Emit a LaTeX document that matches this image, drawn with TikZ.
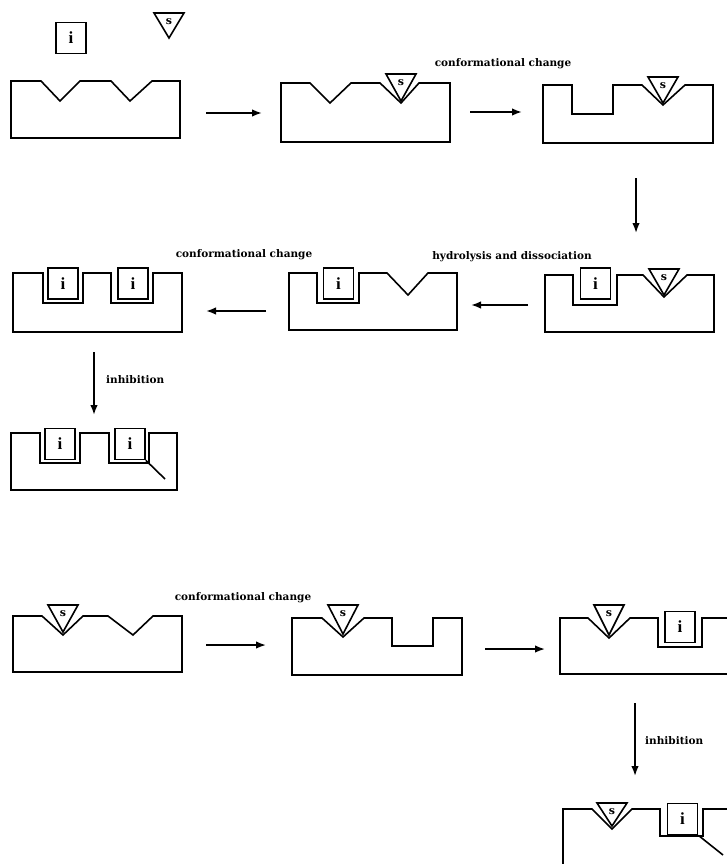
\documentclass[tikz,border=0pt]{standalone}
\usepackage{fontspec}
\setmainfont{Liberation Serif}
\newfontfamily\lblfont{DejaVu Serif}
\usetikzlibrary{arrows.meta}
\newcommand{\mkS}[4]{%
  \draw[shp] (#2-15,#3) -- (#2+15,#3) -- (#2,#4) -- cycle;
  \node[stxt] (#1) at (#2,#3+8.5) {s};}
\begin{document}
\begin{tikzpicture}[x=1pt,y=-1pt,
  shp/.style={line width=1.6pt,line join=miter},
  arr/.style={line width=1.6pt,-{Latex[length=10pt,width=7.5pt]}},
  stxt/.style={font=\lblfont\fontsize{11}{12}\bfseries\selectfont,inner sep=0pt},
  ibox/.style={draw,line width=1.6pt,minimum width=30pt,minimum height=31pt,inner sep=0pt,
    font=\fontsize{17}{18}\bfseries\selectfont},
  labl/.style={font=\lblfont\fontsize{10.5}{12}\bfseries\selectfont,inner sep=0pt},
  diag/.style={line width=1.6pt}]
\useasboundingbox (0,0) rectangle (726,864);

% ---------- top row ----------
\node[ibox] (i0) at (71,38) {i};
\mkS{s0}{169}{13}{38}

\draw[shp] (11,81) -- (41,81) -- (60,101) -- (80,81) -- (111,81) -- (130,101) -- (152,81) -- (180,81) -- (180,138) -- (11,138) -- cycle;
\coordinate (a1s) at (206,113); \coordinate (a1e) at (262,113);
\draw[arr] (a1s) -- (a1e);

\draw[shp] (281,83) -- (310,83) -- (330,103) -- (351,83) -- (380,83) -- (401,103) -- (419,83) -- (450,83) -- (450,142) -- (281,142) -- cycle;
\mkS{s2}{401}{74}{101}
\node[labl] (l1) at (503,64) {conformational change};
\coordinate (a2s) at (470,112); \coordinate (a2e) at (522,112);
\draw[arr] (a2s) -- (a2e);

\draw[shp] (543,85) -- (572,85) -- (572,114) -- (613,114) -- (613,85) -- (642,85) -- (663,105) -- (685,85) -- (713,85) -- (713,143) -- (543,143) -- cycle;
\mkS{s3}{663}{77}{103}
\coordinate (a3s) at (636,178); \coordinate (a3e) at (636,233);
\draw[arr] (a3s) -- (a3e);

% ---------- middle row ----------
\draw[shp] (545,275) -- (573,275) -- (573,305) -- (617,305) -- (617,275) -- (643,275) -- (664,297) -- (687,275) -- (714,275) -- (714,332) -- (545,332) -- cycle;
\node[ibox] (i6) at (595.5,283.5) {i};
\mkS{s6}{664}{269}{295}
\node[labl] (l5) at (512,257) {hydrolysis and dissociation};
\coordinate (a5s) at (528,305); \coordinate (a5e) at (471,305);
\draw[arr] (a5s) -- (a5e);

\draw[shp] (289,273) -- (317,273) -- (317,303) -- (359,303) -- (359,273) -- (387,273) -- (408,295) -- (428,273) -- (457,273) -- (457,330) -- (289,330) -- cycle;
\node[ibox] (i5) at (338.5,283.5) {i};
\node[labl] (l4) at (244,255) {conformational change};
\coordinate (a4s) at (266,311); \coordinate (a4e) at (206,311);
\draw[arr] (a4s) -- (a4e);

\draw[shp] (13,273) -- (43,273) -- (43,303) -- (83,303) -- (83,273) -- (111,273) -- (111,303) -- (153,303) -- (153,273) -- (182,273) -- (182,332) -- (13,332) -- cycle;
\node[ibox] (i4a) at (63,283.5) {i};
\node[ibox] (i4b) at (133,283.5) {i};
\coordinate (a6s) at (94,352); \coordinate (a6e) at (94,415);
\draw[arr] (a6s) -- (a6e);
\node[labl,anchor=west] (l6) at (106,380) {inhibition};

\draw[shp] (11,433) -- (40,433) -- (40,463) -- (80,463) -- (80,433) -- (109,433) -- (109,463) -- (149,463) -- (149,433) -- (177,433) -- (177,490) -- (11,490) -- cycle;
\node[ibox] (i7a) at (60,444) {i};
\node[ibox] (i7b) at (130,444) {i};
\coordinate (d7) at (165,479);
\draw[diag] (i7b.south east) -- (d7);

% ---------- bottom section ----------
\draw[shp] (13,616) -- (42,616) -- (63,635) -- (83,616) -- (108,616) -- (133,635) -- (153,616) -- (182,616) -- (182,672) -- (13,672) -- cycle;
\mkS{s8}{63}{605}{632}
\node[labl] (l8) at (243,598) {conformational change};
\coordinate (a8s) at (206,645); \coordinate (a8e) at (266,645);
\draw[arr] (a8s) -- (a8e);

\draw[shp] (292,618) -- (322,618) -- (343,637) -- (364,618) -- (392,618) -- (392,646) -- (433,646) -- (433,618) -- (462,618) -- (462,675) -- (292,675) -- cycle;
\mkS{s9}{343}{605}{634}
\coordinate (a9s) at (485,649); \coordinate (a9e) at (545,649);
\draw[arr] (a9s) -- (a9e);

\draw[shp] (727,618) -- (702,618) -- (702,647) -- (658,647) -- (658,618) -- (630,618) -- (609,638) -- (588,618) -- (560,618) -- (560,674) -- (727,674);
\mkS{s10}{609}{605}{635}
\node[ibox] (i10) at (680,627) {i};
\coordinate (a10s) at (635,703); \coordinate (a10e) at (635,776);
\draw[arr] (a10s) -- (a10e);
\node[labl,anchor=west] (l10) at (645,741) {inhibition};

\draw[shp] (563,866) -- (563,809) -- (592,809) -- (612,829) -- (632,809) -- (660,809) -- (660,836) -- (703,836) -- (703,809) -- (727,809);
\mkS{s11}{612}{803}{826}
\node[ibox] (i11) at (682.5,819) {i};
\coordinate (d11) at (723,855);
\draw[diag] (i11.south east) -- (d11);
\end{tikzpicture}
\end{document}
